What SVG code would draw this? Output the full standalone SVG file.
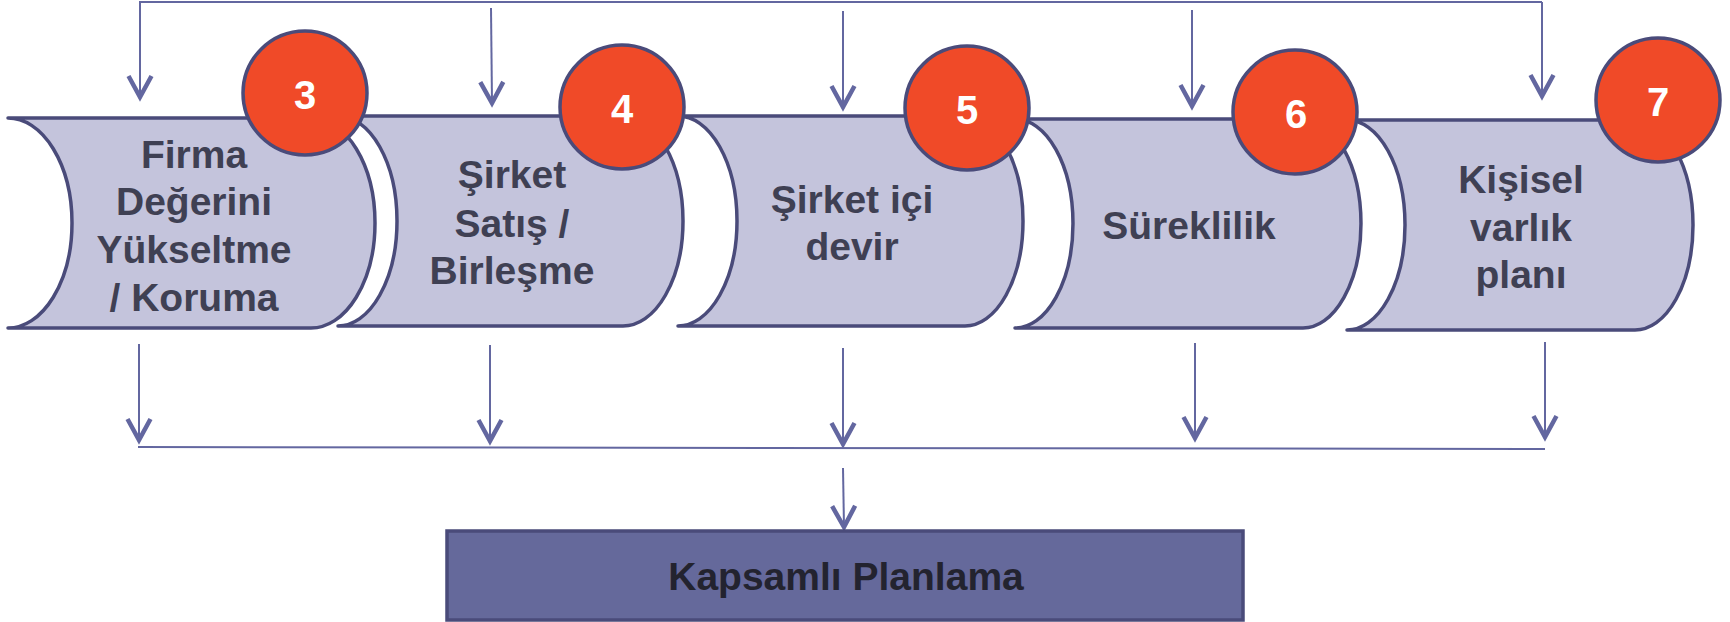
<svg xmlns="http://www.w3.org/2000/svg" width="1730" height="622" viewBox="0 0 1730 622">
<style>
.cyl{fill:#c4c4dc;stroke:#4a4b7a;stroke-width:3.5;stroke-linejoin:round}
.badge{fill:#f04a28;stroke:#4a4b7a;stroke-width:3.5}
.num{font-family:"Liberation Sans",Arial,sans-serif;font-weight:bold;font-size:40px;fill:#ffffff;text-anchor:middle}
.lbl{font-family:"Liberation Sans",Arial,sans-serif;font-weight:bold;font-size:39px;fill:#3f4053;text-anchor:middle}
.conn{fill:none;stroke:#6367a0;stroke-width:2}
.box{fill:#65699b;stroke:#4a4b7a;stroke-width:3.5}
.boxt{font-family:"Liberation Sans",Arial,sans-serif;font-weight:bold;font-size:39px;fill:#23232f;text-anchor:middle}
</style>
<defs>
<marker id="v" markerUnits="userSpaceOnUse" viewBox="-26 -16 30 32" markerWidth="30" markerHeight="32" refX="0" refY="0" orient="auto" overflow="visible">
<path d="M-21,-11.5 L0,0 L-21,11.5" fill="none" stroke="#6367a0" stroke-width="4.5" stroke-linejoin="miter"/>
</marker>
</defs>
<g id="connectors">
<path class="conn" d="M1542,2 H140 V97" marker-end="url(#v)"/>
<path class="conn" d="M1542,2 V96" marker-end="url(#v)"/>
<path class="conn" d="M491,8 L492,103" marker-end="url(#v)"/>
<path class="conn" d="M843,11 L843,107" marker-end="url(#v)"/>
<path class="conn" d="M1192,10 L1192,106" marker-end="url(#v)"/>
<path class="conn" d="M139,344 V440" marker-end="url(#v)"/>
<path class="conn" d="M490,345 V441" marker-end="url(#v)"/>
<path class="conn" d="M843,348 V444" marker-end="url(#v)"/>
<path class="conn" d="M1195,343 V438" marker-end="url(#v)"/>
<path class="conn" d="M1545,342 V437" marker-end="url(#v)"/>
<path class="conn" d="M138,447 L1545,449"/>
<path class="conn" d="M843,468 L844,527" marker-end="url(#v)"/>
</g>
<g id="node1">
<path class="cyl" d="M8,118 H311 A64,105 0 0 1 311,328 H8 A64,105 0 0 0 8,118 Z"/>
<text class="lbl" x="194" y="168">Firma</text>
<text class="lbl" x="194" y="215">Değerini</text>
<text class="lbl" x="194" y="263">Yükseltme</text>
<text class="lbl" x="194" y="311">/ Koruma</text>
</g>
<g id="node2">
<path class="cyl" d="M338,116 H623 A60,105 0 0 1 623,326 H338 A59,105 0 0 0 338,116 Z"/>
<text class="lbl" x="512" y="188">Şirket</text>
<text class="lbl" x="512" y="237">Satış /</text>
<text class="lbl" x="512" y="284">Birleşme</text>
</g>
<g id="node3">
<path class="cyl" d="M678,116 H965 A58,105 0 0 1 965,326 H678 A59,105 0 0 0 678,116 Z"/>
<text class="lbl" x="852" y="213">Şirket içi</text>
<text class="lbl" x="852" y="260">devir</text>
</g>
<g id="node4">
<path class="cyl" d="M1015,119 H1303 A58,104.5 0 0 1 1303,328 H1015 A58,104.5 0 0 0 1015,119 Z"/>
<text class="lbl" x="1189" y="239">Süreklilik</text>
</g>
<g id="node5">
<path class="cyl" d="M1347,120 H1635 A58,105 0 0 1 1635,330 H1347 A58,105 0 0 0 1347,120 Z"/>
<text class="lbl" x="1521" y="193">Kişisel</text>
<text class="lbl" x="1521" y="241">varlık</text>
<text class="lbl" x="1521" y="288">planı</text>
</g>
<g id="badge3"><circle class="badge" cx="305" cy="93" r="62"/><text class="num" x="305" y="109">3</text></g>
<g id="badge4"><circle class="badge" cx="622" cy="107" r="62"/><text class="num" x="622" y="123">4</text></g>
<g id="badge5"><circle class="badge" cx="967" cy="108" r="62"/><text class="num" x="967" y="124">5</text></g>
<g id="badge6"><circle class="badge" cx="1295" cy="112" r="62"/><text class="num" x="1296" y="128">6</text></g>
<g id="badge7"><circle class="badge" cx="1658" cy="100" r="62"/><text class="num" x="1658" y="116">7</text></g>
<g id="summary">
<rect class="box" x="447" y="531" width="796" height="89"/>
<text class="boxt" x="846" y="590">Kapsamlı Planlama</text>
</g>
</svg>
